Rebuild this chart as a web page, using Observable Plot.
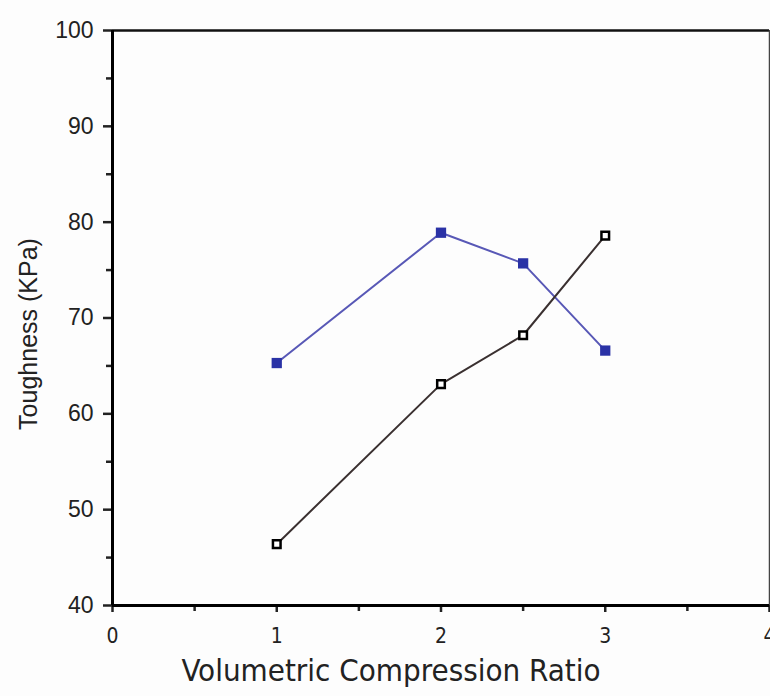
<!DOCTYPE html>
<html>
<head>
<meta charset="utf-8">
<script src="https://cdn.jsdelivr.net/npm/d3@7"></script>
<script src="https://cdn.jsdelivr.net/npm/@observablehq/plot@0.6"></script>
<style>
  html, body { margin: 0; padding: 0; background: #fdfdfd; }
  #chart { width: 770px; height: 696px; }
</style>
</head>
<body>
<div id="chart"></div>
<script>
const ratio = [1, 2, 2.5, 3];
const blueSeries = [65.3, 78.9, 75.7, 66.6];
const blackSeries = [46.4, 63.1, 68.2, 78.6];
const xMajorTicks = [0, 1, 2, 3, 4];
const xMinorTicks = [0.5, 1.5, 2.5, 3.5];
const yMajorTicks = [40, 50, 60, 70, 80, 90, 100];
const yMinorTicks = [45, 55, 65, 75, 85, 95];

const blue = ratio.map((x, i) => ({x, y: blueSeries[i]}));
const black = ratio.map((x, i) => ({x, y: blackSeries[i]}));

const chart = Plot.plot({
  width: 770,
  height: 696,
  marginLeft: 112,
  marginRight: 1,
  marginTop: 30,
  marginBottom: 91,
  style: {background: "#fdfdfd", fontFamily: "Liberation Sans, Arial, sans-serif", fontSize: "20px", color: "#222"},
  x: {domain: [0, 4]},
  y: {domain: [40, 100]},
  marks: [
    Plot.axisX(xMajorTicks, {tickSize: 7, strokeWidth: 2.5, text: null, label: null}),
    Plot.axisX(xMinorTicks, {tickSize: 6, strokeWidth: 2.5, text: null, label: null}),
    Plot.axisY(yMajorTicks, {tickSize: 9, strokeWidth: 2.5, text: null, label: null}),
    Plot.axisY(yMinorTicks, {tickSize: 6, strokeWidth: 2.5, text: null, label: null}),
    Plot.text(xMajorTicks, {x: d => d, y: 40, dy: 31, text: d => String(d), fontSize: 21,
      fontFamily: "DejaVu Sans Condensed, Liberation Sans Narrow, sans-serif", fill: "#222"}),
    Plot.text(yMajorTicks, {x: 0, y: d => d, dx: -19, textAnchor: "end", text: d => String(d), fontSize: 23,
      fontFamily: "Liberation Sans, Arial, sans-serif", fill: "#222"}),
    Plot.ruleY([100], {stroke: "#111", strokeWidth: 2.5}),
    Plot.ruleX([4], {stroke: "#444", strokeWidth: 1.5}),
    Plot.ruleY([40], {stroke: "#000", strokeWidth: 3}),
    Plot.ruleX([0], {stroke: "#000", strokeWidth: 3}),
    Plot.line(blue, {x: "x", y: "y", stroke: "#5858b6", strokeWidth: 2}),
    Plot.line(black, {x: "x", y: "y", stroke: "#3a3030", strokeWidth: 2}),
    Plot.dot(blue, {x: "x", y: "y", symbol: "square", r: 5.8, fill: "#2a32a6", stroke: "none"}),
    Plot.dot(black, {x: "x", y: "y", symbol: "square", r: 4.3, fill: "#fff", stroke: "#000", strokeWidth: 2.5}),
    Plot.text(["Volumetric Compression Ratio"], {frameAnchor: "bottom", dx: -50, dy: 75, fontSize: 31,
      fontFamily: "DejaVu Sans Condensed, Liberation Sans Narrow, sans-serif", fill: "#222"}),
    Plot.text(["Toughness (KPa)"], {frameAnchor: "left", textAnchor: "middle", dx: -84, dy: 16, rotate: -90, fontSize: 25,
      fontFamily: "Liberation Sans, Arial, sans-serif", fill: "#222"})
  ]
});
document.getElementById("chart").appendChild(chart);
</script>
</body>
</html>
